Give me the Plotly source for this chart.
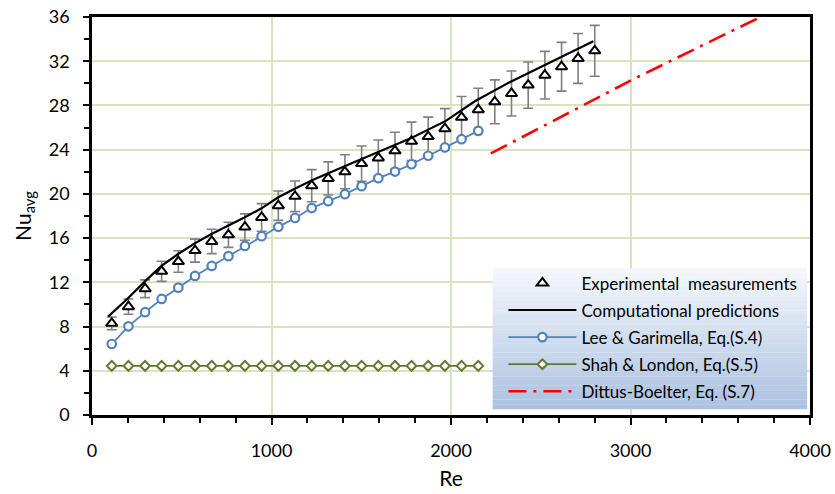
import plotly.graph_objects as go

# ---------------- data ----------------
re_exp = [110, 203, 296, 388, 481, 574, 667, 760, 852, 945, 1038, 1131, 1224, 1316, 1409,
          1502, 1595, 1688, 1780, 1873, 1966, 2059, 2152, 2244, 2337, 2430, 2523, 2616, 2708, 2801]
nu_exp = [8.29, 9.8, 11.42, 13.0, 13.88, 14.87, 15.7, 16.3, 17.0, 17.87, 18.93, 19.78, 20.74, 21.4, 22.0,
          22.74, 23.25, 23.9, 24.76, 25.18, 25.9, 26.93, 27.62, 28.33, 29.08, 29.84, 30.74, 31.5, 32.25, 32.94]
err_pct = 7.0

re_comp = [90, 199, 292, 385, 478, 570, 663, 756, 849, 942, 1038, 1127, 1229, 1414, 1600,
           1785, 1971, 2135, 2327, 2500, 2650, 2793]
nu_comp = [8.9, 10.54, 12.04, 13.46, 14.54, 15.5, 16.35, 17.07, 17.86, 18.67, 19.7, 20.45, 21.25, 22.55, 23.8,
           25.1, 26.6, 28.4, 30.1, 31.5, 32.7, 33.8]

re_corr = re_exp[:23]
nu_lee = [6.42, 8.02, 9.3, 10.5, 11.52, 12.58, 13.48, 14.37, 15.29, 16.17, 17.02, 17.82, 18.72, 19.34,
          19.97, 20.7, 21.42, 22.02, 22.68, 23.45, 24.2, 24.95, 25.7]
nu_shah = [4.44] * 23

re_db = [2222, 2765, 3007, 3547, 3800]
nu_db = [23.66, 28.2, 30.3, 34.6, 36.6]

x_ticks = [0, 1000, 2000, 3000, 4000]
y_ticks = [0, 4, 8, 12, 16, 20, 24, 28, 32, 36]

FONT = "Lato"
BLUE = "#4f81bd"
GREEN = "#5f7a30"
GRID = "#d8e4bf"

fig = go.Figure()

fig.add_trace(go.Scatter(
    x=re_exp, y=nu_exp, mode="markers", name="Experimental\u00a0 measurements",
    legendgroup="a",
    marker=dict(symbol="triangle-up", size=10, color="white", line=dict(color="black", width=2)),
    error_y=dict(type="percent", value=err_pct, color="#7f7f7f", thickness=1.6, width=5),
))
fig.add_trace(go.Scatter(
    x=re_comp, y=nu_comp, mode="lines", name="Computational predictions", legendgroup="b",
    line=dict(color="black", width=2.2),
))
fig.add_trace(go.Scatter(
    x=re_corr, y=nu_lee, mode="lines+markers", name="Lee & Garimella, Eq.(S.4)", legendgroup="c",
    line=dict(color=BLUE, width=1.8),
    marker=dict(symbol="circle", size=8.5, color="white", line=dict(color=BLUE, width=2.2)),
))
fig.add_trace(go.Scatter(
    x=re_corr, y=nu_shah, mode="lines+markers", name="Shah & London, Eq.(S.5)", legendgroup="d",
    line=dict(color=GREEN, width=1.8),
    marker=dict(symbol="diamond", size=7.5, color="white", line=dict(color=GREEN, width=2)),
))
fig.add_trace(go.Scatter(
    x=re_db, y=nu_db, mode="lines", name="Dittus-Boelter, Eq. (S.7)", legendgroup="e",
    line=dict(color="#ff0000", width=2.6, dash="18px,7px,3px,7px"),
))

# legend background gradient (white -> light blue)
n = 30
lx0, lx1, ly0, ly1 = 0.558, 0.996, 0.015, 0.369
top = (244, 247, 252)
bot = (172, 194, 224)
shapes = []
for i in range(n):
    t = i / (n - 1)
    c = tuple(int(round(top[k] + (bot[k] - top[k]) * t)) for k in range(3))
    y_hi = ly1 - (ly1 - ly0) * i / n
    y_lo = ly1 - (ly1 - ly0) * (i + 1) / n
    shapes.append(dict(type="rect", xref="paper", yref="paper", x0=lx0, x1=lx1,
                       y0=y_lo - 0.0005, y1=y_hi, fillcolor="rgb(%d,%d,%d)" % c,
                       line=dict(width=0), layer="above"))

fig.update_layout(
    width=835, height=494,
    margin=dict(l=92, r=25, t=17, b=79, autoexpand=False),
    paper_bgcolor="white", plot_bgcolor="white",
    font=dict(family=FONT, size=18, color="black"),
    showlegend=True,
    legend=dict(x=0.573, y=0.376, xanchor="left", yanchor="top",
                bgcolor="rgba(0,0,0,0)", borderwidth=0,
                font=dict(family=FONT, size=17, color="black"),
                itemwidth=68, tracegroupgap=2, traceorder="grouped"),
    shapes=shapes,
    xaxis=dict(
        range=[0, 4000], tickvals=x_ticks, ticktext=[str(v) for v in x_ticks],
        showgrid=True, gridcolor=GRID, gridwidth=2, automargin=False,
        showline=True, linecolor="black", linewidth=2.5, mirror=True,
        ticks="outside", ticklen=7, tickwidth=2, tickcolor="black",
        minor=dict(dtick=200, ticks="outside", ticklen=5, tickwidth=2, tickcolor="black", showgrid=False),
        zeroline=False, ticklabelstandoff=11,
        tickfont=dict(family=FONT, size=18),
        title=dict(text="Re", font=dict(family=FONT, size=21), standoff=11),
    ),
    yaxis=dict(
        range=[0, 36], tickvals=y_ticks, ticktext=[str(v) for v in y_ticks],
        showgrid=True, gridcolor=GRID, gridwidth=2, automargin=False,
        showline=True, linecolor="black", linewidth=2.5, mirror=True,
        ticks="outside", ticklen=6, tickwidth=2, tickcolor="black",
        minor=dict(dtick=2, ticks="outside", ticklen=5, tickwidth=2, tickcolor="black", showgrid=False),
        zeroline=False, ticklabelstandoff=10,
        tickfont=dict(family=FONT, size=18),
        title=dict(text="Nu<sub>avg</sub>", font=dict(family=FONT, size=21), standoff=12),
    ),
)

fig.write_html("out.html")
